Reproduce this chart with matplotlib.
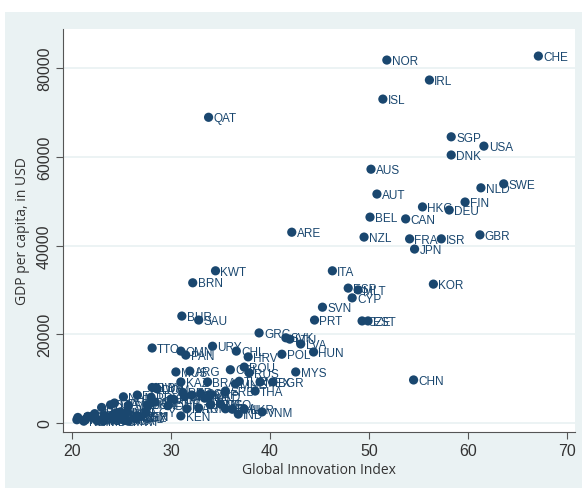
import numpy as np
import matplotlib.pyplot as plt
from matplotlib.patches import Rectangle

# country code, Global Innovation Index score, GDP per capita (USD)
codes = ["CHE", "NOR", "IRL", "ISL", "QAT", "SGP", "USA", "DNK", "AUS", "SWE",
         "NLD", "AUT", "FIN", "HKG", "DEU", "BEL", "CAN", "ARE", "NZL", "FRA",
         "ISR", "GBR", "JPN", "KWT", "ITA", "BRN", "KOR", "ESP", "MLT", "CYP",
         "SVN", "PRT", "CZE", "EST", "BHR", "SAU", "GRC", "SVK", "LTU", "LVA",
         "URY", "TTO", "OMN", "CHL", "HUN", "PAN", "POL", "HRV", "CHN", "MYS",
         "ARG", "MUS", "ROU", "RUS", "CRI", "TUR", "MEX", "BGR", "THA", "KAZ",
         "BRA", "VNM", "IND", "KEN", "SRB", "MNE", "MKD", "ZAF", "COL", "PER",
         "BLR", "BIH", "GEO", "ARM", "UKR", "MDA", "MNG", "PHL", "TUN", "MAR",
         "IRN", "JAM", "ALB", "AZE", "DOM", "LKA", "IDN", "JOR", "ECU", "PRY",
         "BWA", "NAM", "GTM", "SLV", "LBN", "BOL", "DZA", "EGY", "HND", "KGZ",
         "KHM", "UZB", "NPL", "PAK", "BGD", "NGA", "GHA", "SEN", "CIV", "CMR",
         "ZMB", "ZWE", "MOZ", "MDG", "MWI", "TZA", "UGA", "RWA", "TJK", "MLI",
         "TGO", "NER", "BEN", "BFA", "LAO", "GIN"]
gii = [67.1, 51.8, 56.1, 51.4, 33.8, 58.3, 61.6, 58.3, 50.2, 63.6,
       61.3, 50.8, 59.7, 55.4, 58.1, 50.1, 53.7, 42.2, 49.5, 54.1,
       57.3, 61.2, 54.6, 34.5, 46.3, 32.2, 56.5, 47.9, 48.9, 48.3,
       45.3, 44.5, 49.3, 49.9, 31.1, 32.8, 38.9, 41.6, 42.0, 43.1,
       34.2, 28.1, 31.0, 36.6, 44.4, 31.5, 41.2, 37.8, 54.5, 42.6,
       31.9, 30.5, 37.4, 37.9, 36.0, 36.9, 39.0, 40.3, 38.5, 31.0,
       33.7, 39.2, 36.8, 31.0, 35.5, 36.5, 33.9, 34.0, 33.0, 31.2,
       32.1, 31.4, 35.0, 34.0, 37.4, 35.5, 34.0, 36.2, 32.8, 31.6,
       33.4, 30.0, 30.3, 28.4, 28.6, 27.6, 29.7, 27.8, 26.6, 28.0,
       28.1, 25.2, 24.3, 25.7, 28.5, 23.0, 23.9, 27.5, 24.9, 26.6,
       26.6, 24.5, 26.4, 23.9, 23.3, 25.0, 24.4, 26.8, 25.0, 22.0,
       21.6, 22.3, 22.6, 23.2, 25.7, 25.0, 25.3, 24.7, 24.1, 22.4,
       22.9, 21.2, 20.6, 20.5, 25.6, 21.4]
gdp = [82700, 81800, 77300, 73000, 68900, 64500, 62400, 60400, 57200, 53900,
       53000, 51600, 49800, 48700, 48000, 46400, 46000, 43000, 41900, 41500,
       41500, 42400, 39200, 34300, 34300, 31600, 31300, 30400, 30000, 28200,
       26100, 23200, 23000, 23000, 24100, 23200, 20300, 19200, 18900, 17800,
       17300, 16900, 16200, 16200, 16000, 15300, 15500, 14900, 9700, 11500,
       11700, 11500, 12600, 11300, 12000, 9400, 9250, 9250, 7200, 9250,
       9250, 2500, 2000, 1600, 7200, 8800, 6100, 6400, 6700, 6900,
       6300, 6000, 4300, 4200, 3100, 3200, 4100, 3100, 3400, 3200,
       5600, 5400, 5300, 4700, 7700, 4100, 3900, 4200, 6300, 5800,
       8000, 5900, 4500, 4000, 8000, 3500, 4100, 2500, 2500, 1300,
       1500, 1500, 1000, 1500, 1700, 2000, 2200, 1500, 1700, 1500,
       1500, 2100, 500, 460, 400, 1050, 640, 790, 830, 900,
       650, 410, 1250, 730, 2500, 900]

x_ticks = [20, 30, 40, 50, 60, 70]
y_ticks = [0, 20000, 40000, 60000, 80000]

navy = "#1a476f"
bg = "#eaf2f3"
tick_font = ["Liberation Sans Narrow", "Liberation Sans", "DejaVu Sans"]

fig = plt.figure(figsize=(5.82, 4.89), dpi=100)
fig.patch.set_facecolor("white")
fig.patches.append(Rectangle((5 / 582, 0), 1, (489 - 13) / 489,
                             transform=fig.transFigure, facecolor=bg,
                             edgecolor="none", zorder=-10))

ax = fig.add_axes([63 / 582, 56 / 489, 512 / 582, 403 / 489])
ax.set_facecolor("white")
ax.set_xlim(19.1, 70.8)
ax.set_ylim(-2030, 88800)

for yv in y_ticks:
    ax.axhline(yv, color=bg, lw=1.3, zorder=1)

ax.scatter(gii, gdp, s=44, color=navy, edgecolors="none", zorder=3)
for c, xv, yv in zip(codes, gii, gdp):
    ax.annotate(c, (xv, yv), xytext=(3.5, -0.5), textcoords="offset points",
                ha="left", va="center", fontsize=8.5, color=navy,
                family=["Liberation Sans", "DejaVu Sans"], zorder=2)

ax.set_xticks(x_ticks)
ax.set_yticks(y_ticks)
ax.set_xticklabels([str(v) for v in x_ticks], family=tick_font, fontsize=11.5)
ax.set_yticklabels([str(v) for v in y_ticks], family=tick_font, fontsize=11.5,
                   rotation=90, va="center")
ax.tick_params(axis="both", direction="out", length=5, width=0.8,
               color="#555555", labelcolor="#333333", pad=3)

for side in ["top", "right"]:
    ax.spines[side].set_visible(False)
for side in ["left", "bottom"]:
    ax.spines[side].set_color("#555555")
    ax.spines[side].set_linewidth(0.8)

ax.set_xlabel("Global Innovation Index", family=["Open Sans", "DejaVu Sans"],
              fontsize=10, color="#333333", labelpad=3)
ax.set_ylabel("GDP per capita, in USD", family=["Open Sans", "DejaVu Sans"],
              fontsize=10, color="#333333", labelpad=5)

fig.savefig("out.png", dpi=100, facecolor=fig.get_facecolor())
